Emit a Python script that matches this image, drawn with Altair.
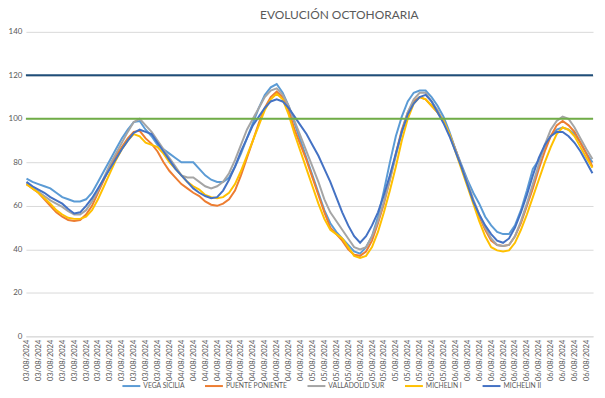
import altair as alt
import pandas as pd

DAYS = ["03/08/2024", "04/08/2024", "05/08/2024", "06/08/2024"]
HOURS = [f"{h:02d}:00" for h in range(24)]
CATEGORIES = [f"{d} {h}" for d in DAYS for h in HOURS]

SERIES = ["VEGA SICILIA", "PUENTE PONIENTE", "VALLADOLID SUR", "MICHELIN I", "MICHELIN II"]
COLORS = ["#5B9BD5", "#ED7D31", "#A5A5A5", "#FFC000", "#4472C4"]

VEGA_SICILIA = [
    72.5, 71, 70, 69, 68, 66, 64, 63, 62, 62, 63, 66, 71, 76, 81, 86, 91, 95, 98.5, 99, 95, 92, 88, 86,
    84, 82, 80, 80, 80, 77, 74, 72, 71, 71, 73, 78, 84, 91, 98, 105, 111, 114.5, 116, 112, 106, 98, 90, 82,
    74, 66, 58, 52, 48, 45, 42, 39, 38, 41, 46, 55, 67, 80, 92, 101, 108, 112, 113, 113, 110, 106, 101, 94,
    86, 79, 72, 66, 61, 55, 51, 48, 47, 47, 51, 58, 67, 77, 81, 87, 92, 95, 96, 95, 93, 89, 84, 80,
]
PUENTE_PONIENTE = [
    70, 68, 66, 63, 60, 57, 55, 53.5, 53, 53.5, 56, 60, 66, 72, 78, 83, 87, 91, 94, 94.5, 91, 88.5, 85, 80,
    76, 73, 70, 68, 66, 64.5, 62, 60.5, 60, 61, 63, 67, 74, 82, 90, 98, 105, 110, 112.5, 110, 104, 95, 88, 81,
    73, 65, 57, 50, 47, 44, 40, 37.5, 37, 39, 44, 52, 61, 72, 84, 95, 103, 108, 110, 109, 106, 103, 99, 93,
    86, 78, 70, 62, 55, 49, 44, 42, 41.5, 42, 46, 52, 60, 68, 77, 85, 92, 97, 99, 97, 94, 89, 84, 78,
]
VALLADOLID_SUR = [
    70.5, 68.5, 66.5, 64.5, 62.5, 61, 59.5, 57.5, 56, 56, 58, 62, 67, 73, 79, 84, 89, 94, 98.5, 100, 97, 94, 90, 86,
    82, 78, 74, 73, 73, 71, 69, 68, 69, 71, 75, 81, 88, 95, 100, 105, 110, 113, 114, 111, 106, 99, 92, 85,
    78, 71, 63, 57, 53, 49, 45, 41, 40, 41, 46, 53, 62, 72, 83, 94, 103, 109, 112, 112, 108, 104, 99, 93,
    86, 78, 71, 63, 56, 50, 45, 42, 41.5, 42, 46, 53, 61, 70, 79, 88, 95, 99, 101, 100, 96, 91, 86, 81.5,
]
MICHELIN_I = [
    70, 68, 66, 63.5, 61, 58, 56, 54.5, 54, 54, 55, 58, 63, 69, 75, 81, 86, 90, 93, 92, 89, 88, 87, 84,
    80, 77, 74, 71, 69, 67.5, 65, 64, 63.5, 64, 66, 70, 76, 83, 90, 97, 104, 109, 111.5, 109, 102, 93, 85, 77,
    69, 61, 54, 49, 47, 45, 41, 37, 36, 37, 41, 48, 57, 67, 78, 90, 100, 107, 110, 109, 106, 103, 99, 93,
    85, 77, 69, 61, 53, 46, 41, 39.5, 39, 39.5, 43, 49, 56, 64, 72, 80, 87, 93, 96, 95, 92, 87, 82, 77.5,
]
MICHELIN_II = [
    71, 69, 67.5, 66, 64, 62.5, 61, 58.5, 56.5, 57, 60, 63.5, 68, 72.5, 77, 81.5, 86, 90, 93.5, 95, 94, 93, 89, 85,
    81, 77, 74, 71, 68, 66, 64.5, 63.5, 64, 67, 72, 78, 85, 91, 97, 101, 105, 108, 109, 108, 105, 101, 97, 93,
    88, 83, 77, 71, 64, 57, 51, 46, 43, 46, 51, 57, 65, 74, 84, 94, 102, 107, 110, 111, 108, 103, 98, 92,
    85, 78, 70, 62, 56, 51, 47, 44, 43, 45, 50, 57, 65, 74, 82, 88, 92, 94, 94, 92, 89, 85, 80, 75,
]

REF_VALUES = [120, 100]
REF_COLORS = ["#1F4E79", "#70AD47"]
Y_TICKS = [0, 20, 40, 60, 80, 100, 120, 140]

rows = []
for name, vals in zip(SERIES, [VEGA_SICILIA, PUENTE_PONIENTE, VALLADOLID_SUR, MICHELIN_I, MICHELIN_II]):
    for c, v in zip(CATEGORIES, vals):
        rows.append({"cat": c, "serie": name, "valor": v})
df = pd.DataFrame(rows)

ref_df = pd.DataFrame({"y": REF_VALUES, "c": REF_COLORS})

W, H = 570, 306

lines = alt.Chart(df).mark_line(strokeWidth=2).encode(
    x=alt.X(
        "cat:O",
        sort=CATEGORIES,
        scale=alt.Scale(type="point", padding=0.1),
        title=None,
        axis=alt.Axis(
            values=CATEGORIES[::2],
            labelExpr="slice(datum.value, 0, 10)",
            labelAngle=270,
            labelFontSize=7.5,
            labelColor="#595959",
            labelPadding=3,
            ticks=False,
            grid=False,
            domainColor="#D9D9D9",
            labelOverlap=False,
        ),
    ),
    y=alt.Y(
        "valor:Q",
        scale=alt.Scale(domain=[0, 140]),
        title=None,
        axis=alt.Axis(
            values=Y_TICKS,
            labelFontSize=8,
            labelColor="#595959",
            labelPadding=4,
            ticks=False,
            domain=False,
            gridColor="#D9D9D9",
        ),
    ),
    color=alt.Color(
        "serie:N",
        scale=alt.Scale(domain=SERIES, range=COLORS),
        legend=alt.Legend(
            title=None,
            orient="none",
            direction="horizontal",
            legendX=96,
            legendY=H + 40,
            symbolType="stroke",
            symbolStrokeWidth=2,
            symbolSize=324,
            labelFontSize=6.8,
            labelColor="#595959",
            labelOffset=2,
            columnPadding=16,
        ),
    ),
)

rules = alt.Chart(ref_df).mark_rule(strokeWidth=2).encode(
    y=alt.Y("y:Q"),
    color=alt.Color("c:N", scale=None),
)

chart = alt.layer(lines, rules).properties(
    width=W,
    height=H,
    padding=0,
    title=alt.TitleParams(
        "EVOLUCIÓN OCTOHORARIA",
        fontSize=12,
        fontWeight="normal",
        color="#595959",
        anchor="middle",
        dx=30,
        offset=6,
    ),
).configure(font="Lato").configure_view(stroke=None)

chart.save("out.html", embed_options={"renderer": "svg", "actions": False})
